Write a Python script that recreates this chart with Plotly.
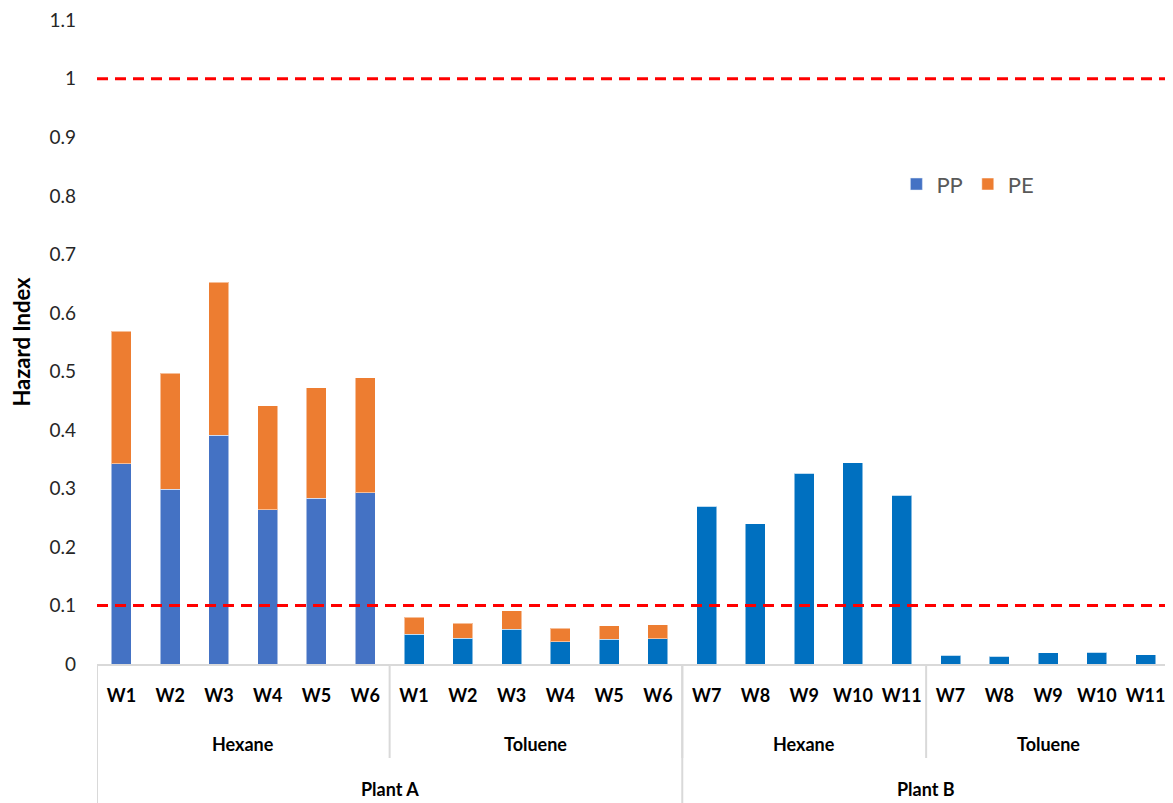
import plotly.graph_objects as go

# ---- data ----
wells = ["W1", "W2", "W3", "W4", "W5", "W6",
         "W1", "W2", "W3", "W4", "W5", "W6",
         "W7", "W8", "W9", "W10", "W11",
         "W7", "W8", "W9", "W10", "W11"]
solvents = ["Hexane"] * 6 + ["Toluene"] * 6 + ["Hexane"] * 5 + ["Toluene"] * 5
plants = ["Plant A"] * 12 + ["Plant B"] * 10

pp = [0.342, 0.299, 0.391, 0.264, 0.283, 0.293,
      0.051, 0.044, 0.059, 0.038, 0.042, 0.043,
      0.270, 0.240, 0.326, 0.344, 0.288,
      0.015, 0.013, 0.019, 0.020, 0.016]
pe = [0.227, 0.198, 0.261, 0.177, 0.189, 0.196,
      0.029, 0.026, 0.032, 0.023, 0.023, 0.024,
      0, 0, 0, 0, 0,
      0, 0, 0, 0, 0]
thresholds = [1.0, 0.1]
y_ticks = [0, 0.1, 0.2, 0.3, 0.4, 0.5, 0.6, 0.7, 0.8, 0.9, 1, 1.1]

# ---- styling ----
BLUE_A = "#4472C4"
BLUE_B = "#0070C0"
ORANGE = "#ED7D31"
GRID = "#D9D9D9"
FONT = "Lato, Open Sans, Arial"

x = list(range(len(wells)))
pp_colors = [BLUE_A if (p == "Plant A" and s == "Hexane") else BLUE_B
             for p, s in zip(plants, solvents)]

fig = go.Figure()
fig.add_bar(
    x=x, y=pp, name="PP", width=0.41, showlegend=False,
    marker=dict(color=pp_colors, line=dict(color="rgba(255,255,255,0.5)", width=1)),
)
fig.add_bar(
    x=x, y=pe, name="PE", width=0.41, legendrank=2,
    marker=dict(color=ORANGE, line=dict(color="rgba(255,255,255,0.5)", width=1)),
)
# legend patch for PP uses the lighter blue
fig.add_bar(x=[None], y=[None], name="PP", marker_color=BLUE_A, legendrank=1)

# threshold lines
for t in thresholds:
    fig.add_shape(type="line", xref="paper", x0=0, x1=1, yref="y", y0=t, y1=t,
                  line=dict(color="#FF0000", width=3, dash="11px,7px"))

# group labels and dividers
def groups(keys):
    out = []
    start = 0
    for i in range(1, len(keys) + 1):
        if i == len(keys) or keys[i] != keys[start]:
            out.append((keys[start], start, i - 1))
            start = i
    return out

sub_keys = [p + "|" + s for p, s in zip(plants, solvents)]
for key, a, b in groups(sub_keys):
    fig.add_annotation(x=(a + b) / 2, xref="x", y=0, yref="paper", yshift=-93,
                       text="<b>" + key.split("|")[1] + "</b>", showarrow=False,
                       font=dict(size=18, color="#000000", family=FONT))
    fig.add_shape(type="line", xref="x", x0=b + 0.5, x1=b + 0.5, yref="paper",
                  y0=0, y1=-0.146, line=dict(color=GRID, width=2))

for key, a, b in groups(plants):
    fig.add_annotation(x=(a + b) / 2, xref="x", y=0, yref="paper", yshift=-138,
                       text="<b>" + key + "</b>", showarrow=False,
                       font=dict(size=18, color="#000000", family=FONT))
    fig.add_shape(type="line", xref="x", x0=b + 0.5, x1=b + 0.5, yref="paper",
                  y0=0, y1=-0.3, line=dict(color=GRID, width=2))
fig.add_shape(type="line", xref="x", x0=-0.5, x1=-0.5, yref="paper",
              y0=0, y1=-0.3, line=dict(color=GRID, width=2))

# page body adds an 8px offset, so the figure is 8px smaller than the window
fig.update_layout(
    width=1165, height=795,
    barmode="stack",
    paper_bgcolor="white", plot_bgcolor="white",
    margin=dict(l=89, r=3, t=12, b=139, autoexpand=False),
    font=dict(family=FONT, color="#262626"),
    showlegend=True,
    legend=dict(orientation="h", traceorder="normal", x=0.745, y=0.745,
                xanchor="left", yanchor="middle",
                font=dict(size=22, color="#595959"),
                bgcolor="rgba(0,0,0,0)"),
    xaxis=dict(
        range=[-0.5, len(wells) - 0.5], automargin=False,
        tickmode="array", tickvals=x, ticktext=["<b>" + w + "</b>" for w in wells],
        tickfont=dict(size=18, color="#000000", family=FONT),
        ticks="", ticklabelstandoff=14,
        showgrid=False, zeroline=False,
        showline=True, linecolor=GRID, linewidth=2,
    ),
    yaxis=dict(
        range=[0, 1.1005], automargin=False, ticklabeloverflow="allow",
        tickmode="array", tickvals=y_ticks, ticktext=[f"{v:g}" for v in y_ticks],
        tickfont=dict(size=19, color="#262626", family=FONT),
        showgrid=False, zeroline=False, showline=False, ticks="",
        ticklabelstandoff=20,
        title=dict(text="<b>Hazard Index</b>", font=dict(size=22, color="#000000", family=FONT),
                   standoff=12),
    ),
)

fig.write_html("out.html")
